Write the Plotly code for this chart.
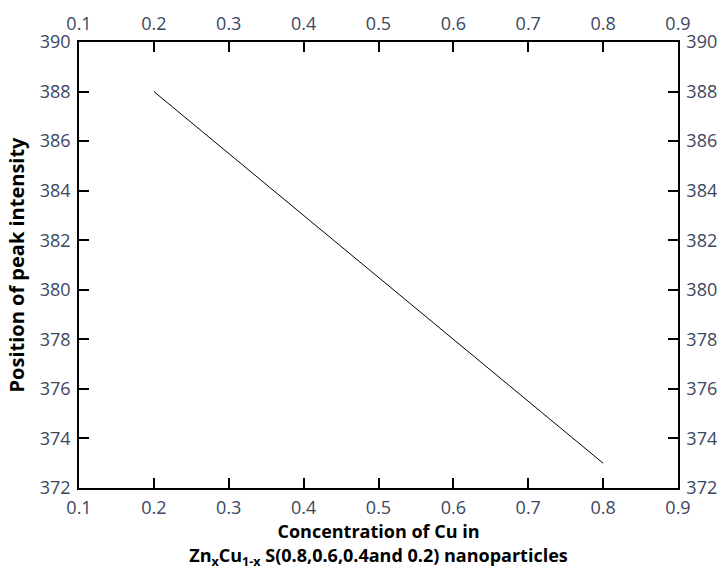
import plotly.graph_objects as go

# Cu concentration vs. position of peak intensity
cu_conc = [0.2, 0.4, 0.6, 0.8]
peak_pos = [388, 383, 378, 373]

x_ticks = [0.1, 0.2, 0.3, 0.4, 0.5, 0.6, 0.7, 0.8, 0.9]
y_ticks = [372, 374, 376, 378, 380, 382, 384, 386, 388, 390]

tick_color = "#3b4760"
font_family = "Open Sans, DejaVu Sans, sans-serif"

fig = go.Figure()
fig.add_trace(go.Scatter(
    x=cu_conc, y=peak_pos, mode="lines",
    line=dict(color="black", width=1),
    showlegend=False, hoverinfo="skip",
))
# invisible trace to activate the mirrored top/right axes
fig.add_trace(go.Scatter(
    x=cu_conc, y=peak_pos, mode="lines", xaxis="x2", yaxis="y2",
    line=dict(color="rgba(0,0,0,0)", width=0),
    showlegend=False, hoverinfo="skip",
))

axis_common = dict(
    showgrid=False, zeroline=False, automargin=False,
    showline=True, linecolor="black", linewidth=1.5,
    ticks="inside", ticklen=10, tickwidth=1.5, tickcolor="black",
    tickfont=dict(family=font_family, size=18, color=tick_color),
    ticklabelstandoff=3,
)

fig.update_layout(
    width=724, height=571,
    paper_bgcolor="white", plot_bgcolor="white",
    margin=dict(l=79, r=46, t=42, b=83),
    font=dict(family=font_family),
    xaxis=dict(
        range=[0.1, 0.9], tickvals=x_ticks, ticktext=[f"{v:g}" for v in x_ticks],
        title=dict(
            text="<b>Concentration of Cu in<br>Zn<sub>x</sub>Cu<sub>1-x</sub> S(0.8,0.6,0.4and 0.2) nanoparticles</b>",
            font=dict(family=font_family, size=18, color="black"), standoff=0,
        ),
        **axis_common,
    ),
    xaxis2=dict(
        range=[0.1, 0.9], tickvals=x_ticks, ticktext=[f"{v:g}" for v in x_ticks],
        overlaying="x", side="top", matches="x",
        **axis_common,
    ),
    yaxis=dict(
        range=[372, 390], tickvals=y_ticks,
        title=dict(
            text="<b>Position of peak intensity</b>",
            font=dict(family=font_family, size=20, color="black"), standoff=10,
        ),
        **axis_common,
    ),
    yaxis2=dict(
        range=[372, 390], tickvals=y_ticks,
        overlaying="y", side="right", matches="y",
        **axis_common,
    ),
)

fig.write_html("out.html")
